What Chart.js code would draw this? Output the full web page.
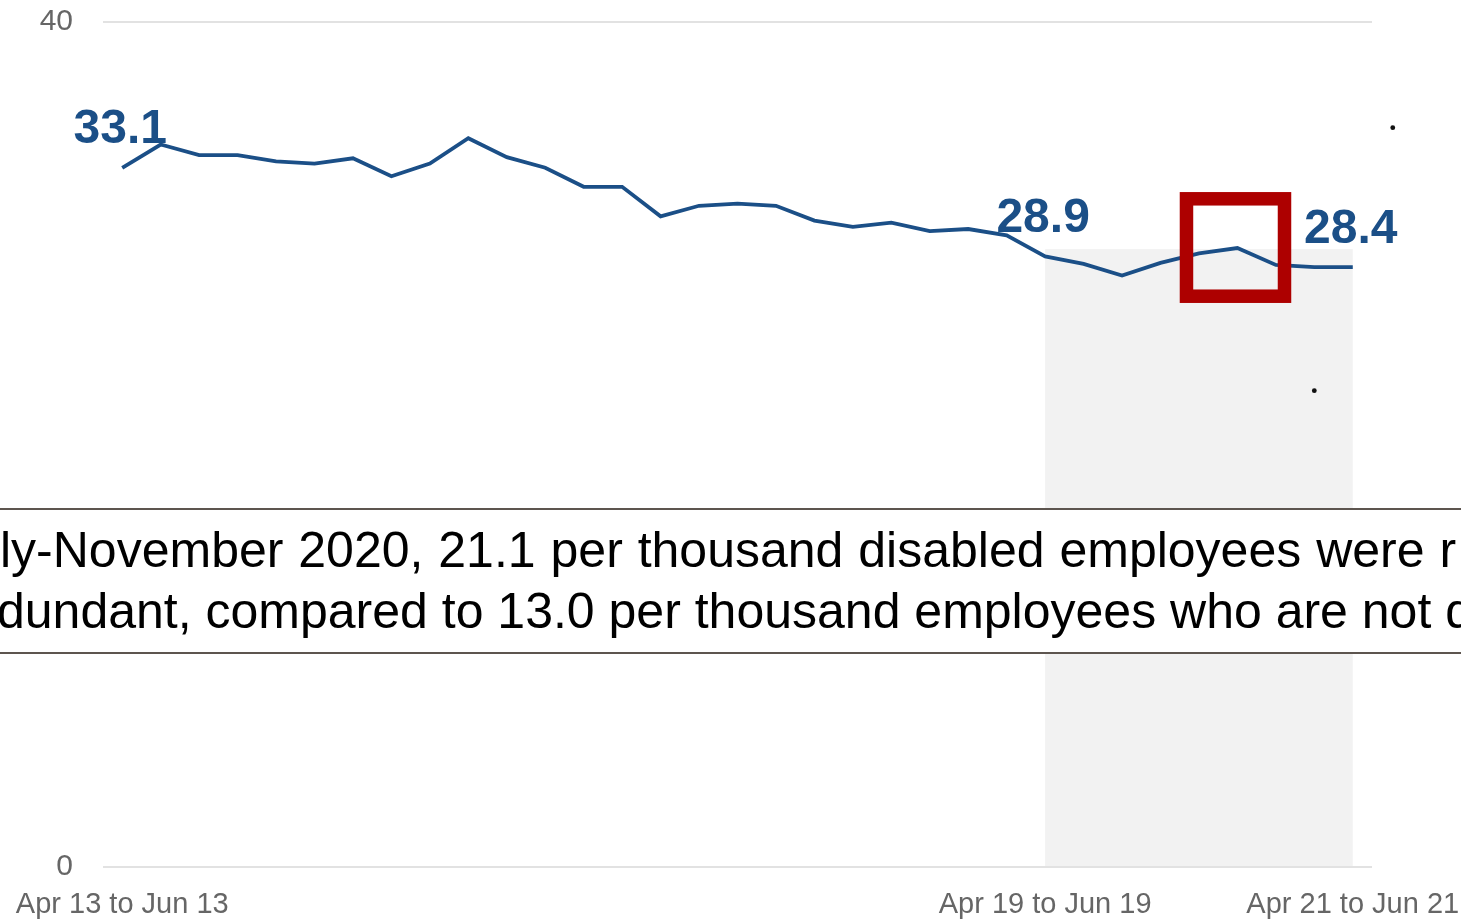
<!DOCTYPE html>
<html>
<head>
<meta charset="utf-8">
<script src="https://cdn.jsdelivr.net/npm/chart.js@4.4.0/dist/chart.umd.min.js"></script>
<style>
  html, body { margin: 0; padding: 0; background: #fff; overflow: hidden; }
  #wrap { position: relative; width: 1461px; height: 920px; }
  #chart { position: absolute; left: 0; top: 0; }
  .note {
    position: absolute; left: 0; top: 508px; width: 1461px; height: 146px;
    box-sizing: border-box; background: #fff;
    border-top: 2px solid #5d554f; border-bottom: 2px solid #5d554f;
    overflow: hidden;
  }
  .note div {
    position: absolute; white-space: nowrap;
    font-family: "Liberation Sans", Arial, sans-serif; font-size: 50px; line-height: 50px; color: #000;
  }
</style>
</head>
<body>
<div id="wrap">
  <canvas id="chart" width="1461" height="920"></canvas>
  <div class="note">
    <div style="left:0px;top:14.7px;word-spacing:1px">ly-November 2020, 21.1 per thousand disabled employees were r</div>
    <div style="left:-3px;top:75.7px">dundant, compared to 13.0 per thousand employees who are not d</div>
  </div>
</div>
<script>
// rolling quarters, Apr-Jun 2013 .. Apr-Jun 2021
let quarters = [
  "Apr 13 to Jun 13", "Jul 13 to Sep 13", "Oct 13 to Dec 13", "Jan 14 to Mar 14",
  "Apr 14 to Jun 14", "Jul 14 to Sep 14", "Oct 14 to Dec 14", "Jan 15 to Mar 15",
  "Apr 15 to Jun 15", "Jul 15 to Sep 15", "Oct 15 to Dec 15", "Jan 16 to Mar 16",
  "Apr 16 to Jun 16", "Jul 16 to Sep 16", "Oct 16 to Dec 16", "Jan 17 to Mar 17",
  "Apr 17 to Jun 17", "Jul 17 to Sep 17", "Oct 17 to Dec 17", "Jan 18 to Mar 18",
  "Apr 18 to Jun 18", "Jul 18 to Sep 18", "Oct 18 to Dec 18", "Jan 19 to Mar 19",
  "Apr 19 to Jun 19", "Jul 19 to Sep 19", "Oct 19 to Dec 19", "Jan 20 to Mar 20",
  "Apr 20 to Jun 20", "Jul 20 to Sep 20", "Oct 20 to Dec 20", "Jan 21 to Mar 21",
  "Apr 21 to Jun 21"
];
let rates = [
  33.1, 34.2, 33.7, 33.7, 33.4, 33.3, 33.55, 32.7, 33.3, 34.5, 33.6, 33.1,
  32.2, 32.2, 30.8, 31.3, 31.4, 31.3, 30.6, 30.3, 30.5, 30.1, 30.2, 29.9,
  28.9, 28.55, 28.0, 28.6, 29.05, 29.3, 28.5, 28.4, 28.4
];
let shownTicks = [0, 24, 32];
let labelled = [0, 24, 32];
let yTicks = [0, 40];

// grey period band and red highlight box, in data units
let band = { from: 24, to: 32, top: 29.25 };
let box = { x0: 27.5, x1: 30.4, y0: 31.95, y1: 26.7 };
let dots = [[33.04, 35.0], [31.0, 22.55]];

var font = '"Liberation Sans", Arial, sans-serif';

var extras = {
    id: 'extras',
    beforeDatasetsDraw: function(chart) {
        var c = chart.ctx, x = chart.scales.x, y = chart.scales.y;
        c.save();
        c.fillStyle = '#f2f2f2';
        var l = x.getPixelForValue(band.from), r = x.getPixelForValue(band.to);
        var t = y.getPixelForValue(band.top), b = y.getPixelForValue(0);
        c.fillRect(l, t, r - l, b - t - 1);
        c.restore();
    },
    afterDatasetsDraw: function(chart) {
        var c = chart.ctx, x = chart.scales.x, y = chart.scales.y;
        var meta = chart.getDatasetMeta(0);
        c.save();
        c.fillStyle = '#1b4f87';
        c.font = 'bold 48px ' + font;
        c.textAlign = 'center';
        c.textBaseline = 'alphabetic';
        labelled.forEach(function(i) {
            var p = meta.data[i];
            c.fillText(rates[i].toFixed(1), p.x - 2, p.y - 24.5);
        });
        // red highlight
        var bl = x.getPixelForValue(box.x0), br = x.getPixelForValue(box.x1);
        var bt = y.getPixelForValue(box.y0), bb = y.getPixelForValue(box.y1);
        var lw = 13.5;
        c.strokeStyle = '#ad0000';
        c.lineWidth = lw;
        c.strokeRect(bl + lw / 2, bt + lw / 2, br - bl - lw, bb - bt - lw);
        // stray dots
        c.fillStyle = '#111';
        dots.forEach(function(d) {
            c.beginPath();
            c.arc(x.getPixelForValue(d[0]), y.getPixelForValue(d[1]), 2.4, 0, Math.PI * 2);
            c.fill();
        });
        c.restore();
    }
};

var ctx = document.getElementById('chart').getContext('2d');
var chart = new Chart(ctx, {
    type: 'line',
    data: {
        labels: quarters,
        datasets: [{
            data: rates,
            borderColor: '#1b4f87',
            borderWidth: 3.8,
            pointRadius: 0,
            tension: 0,
            fill: false
        }]
    },
    options: {
        responsive: false,
        animation: false,
        layout: { padding: { top: 22, right: 89, left: 0, bottom: 0 } },
        plugins: { legend: { display: false }, tooltip: { enabled: false } },
        scales: {
            x: {
                offset: true,
                grid: { display: false },
                border: { display: false },
                ticks: {
                    autoSkip: false,
                    maxRotation: 0,
                    padding: 13,
                    color: '#666',
                    font: { family: font, size: 29 },
                    callback: function(v, i) { return shownTicks.includes(i) ? quarters[i] : ''; }
                },
                afterFit: function(s) {
                    s.height = 53;
                    s.paddingLeft = 0;
                    s.paddingRight = 0;
                }
            },
            y: {
                min: 0,
                max: 40,
                afterBuildTicks: function(s) { s.ticks = yTicks.map(function(v) { return { value: v }; }); },
                ticks: { padding: 30, color: '#666', font: { family: font, size: 30 } },
                grid: { color: '#e2e2e2', lineWidth: 2, drawTicks: false },
                border: { display: false },
                afterFit: function(s) {
                    s.width = 103;
                    s.paddingTop = 0;
                    s.paddingBottom = 0;
                }
            }
        }
    },
    plugins: [extras]
});
</script>
</body>
</html>
